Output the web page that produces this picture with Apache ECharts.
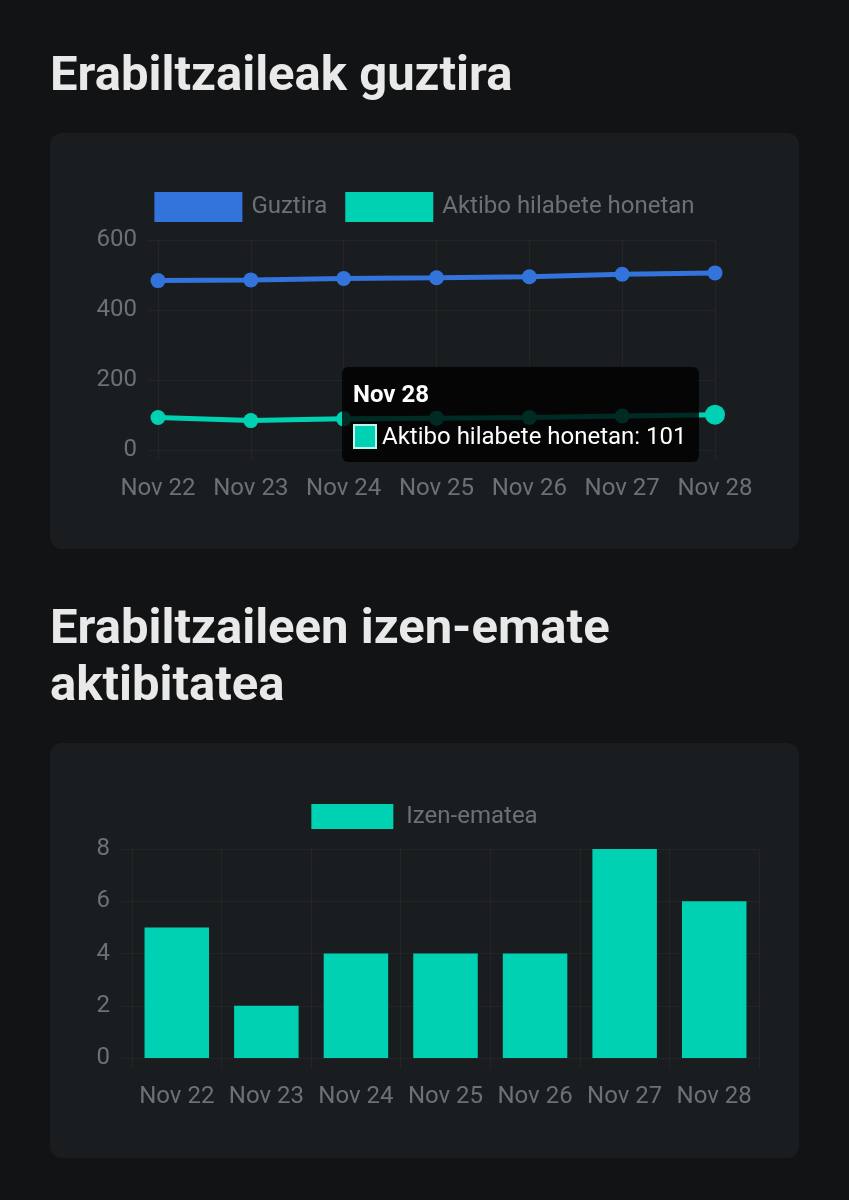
<!DOCTYPE html>
<html>
<head>
<meta charset="utf-8">
<script src="https://cdn.jsdelivr.net/npm/echarts@6/dist/echarts.min.js"></script>
<style>
  body { margin: 0; background: #121314; width: 849px; height: 1200px; overflow: hidden; font-family: Roboto, sans-serif; }
  h2 { position: absolute; left: 50px; margin: 0; font-size: 49px; font-weight: 700; line-height: 57px; color: #e9e9e9; }
  .card { position: absolute; left: 50px; width: 749px; height: 416px; background: #1a1d1f; border-radius: 12px; }
</style>
</head>
<body>
<h2 style="top:45px">Erabiltzaileak guztira</h2>
<div id="users" class="card" style="top:133px"></div>
<h2 style="top:598px">Erabiltzaileen izen-emate<br>aktibitatea</h2>
<div id="signups" class="card" style="top:743px;height:415px"></div>
<script>
// data
var days = ["Nov 22", "Nov 23", "Nov 24", "Nov 25", "Nov 26", "Nov 27", "Nov 28"];
var totalUsers = [484, 486, 490, 492, 495, 502, 506];
var activeUsers = [93, 84, 89, 91, 93, 97, 101];
var signups = [5, 2, 4, 4, 4, 8, 6];

var blue = "#3273dc";
var green = "#00d1b2";
var gray = "#6e7174";
var gridColor = "rgba(255,255,255,0.035)";
var font = "Roboto";

// first chart: totals
var usersChart = echarts.init(document.getElementById("users"));
var last = activeUsers.length - 1;
usersChart.setOption({
    animation: false,
    backgroundColor: "transparent",
    textStyle: { fontFamily: font },
    legend: {
        top: 54,
        left: "center",
        itemWidth: 88,
        itemHeight: 30,
        itemGap: 18,
        icon: "rect",
        data: ["Guztira", "Aktibo hilabete honetan"],
        textStyle: { color: gray, fontSize: 24, fontFamily: font, padding: [0, 0, 0, 4] }
    },
    tooltip: {
        trigger: "item",
        triggerOn: "none",
        alwaysShowContent: true,
        transitionDuration: 0,
        position: [292, 234],
        backgroundColor: "rgba(0,0,0,0.8)",
        borderWidth: 0,
        borderRadius: 6,
        padding: [13, 12, 12, 11],
        extraCssText: "box-shadow:none;",
        textStyle: { color: "#fff", fontSize: 24, fontFamily: font },
        formatter: function (p) {
            return '<div style="font-weight:700;line-height:28px;margin-bottom:14px">' + p.name + '</div>' +
                '<div style="line-height:28px;display:flex;align-items:center">' +
                '<span style="display:inline-block;box-sizing:border-box;width:24px;height:25px;background:' + green +
                ';border:2px solid rgba(255,255,255,0.75);margin-right:5px"></span>' +
                p.seriesName + ': ' + p.value + '</div>';
        }
    },
    grid: { left: 108, right: 84, top: 107, bottom: 99 },
    xAxis: {
        type: "category",
        boundaryGap: false,
        data: days,
        axisLine: { show: false },
        axisTick: { show: true, interval: 0, length: 10, lineStyle: { color: gridColor } },
        axisLabel: { color: gray, fontSize: 24, margin: 27, interval: 0 },
        splitLine: { show: true, interval: 0, lineStyle: { color: gridColor } }
    },
    yAxis: {
        type: "value",
        min: 0,
        max: 600,
        interval: 200,
        axisLine: { show: false },
        axisTick: { show: true, length: 10, lineStyle: { color: gridColor } },
        axisLabel: { color: gray, fontSize: 24, margin: 21 },
        splitLine: { lineStyle: { color: gridColor } }
    },
    series: [
        {
            name: "Guztira",
            type: "line",
            data: totalUsers,
            symbol: "circle",
            symbolSize: 15,
            itemStyle: { color: blue },
            lineStyle: { width: 5, color: blue }
        },
        {
            name: "Aktibo hilabete honetan",
            type: "line",
            data: activeUsers.map(function (v, i) {
                return i === last ? { value: v, symbolSize: 20 } : v;
            }),
            symbol: "circle",
            symbolSize: 15,
            itemStyle: { color: green },
            lineStyle: { width: 5, color: green }
        }
    ]
});
usersChart.dispatchAction({ type: "showTip", seriesIndex: 1, dataIndex: last });

// second chart: sign-ups per day
var signupsChart = echarts.init(document.getElementById("signups"));
signupsChart.setOption({
    animation: false,
    backgroundColor: "transparent",
    textStyle: { fontFamily: font },
    legend: {
        top: 56,
        left: "center",
        itemWidth: 82,
        itemHeight: 25,
        icon: "rect",
        data: ["Izen-ematea"],
        textStyle: { color: gray, fontSize: 24, fontFamily: font, padding: [0, 0, 0, 8] }
    },
    grid: { left: 82, right: 40, top: 106, bottom: 100 },
    xAxis: {
        type: "category",
        data: days,
        axisLine: { show: false },
        axisTick: { show: true, interval: 0, length: 10, lineStyle: { color: gridColor } },
        axisLabel: { color: gray, fontSize: 24, margin: 27, interval: 0 },
        splitLine: { show: true, interval: 0, lineStyle: { color: gridColor } }
    },
    yAxis: {
        type: "value",
        min: 0,
        max: 8,
        interval: 2,
        axisLine: { show: false },
        axisTick: { show: true, length: 10, lineStyle: { color: gridColor } },
        axisLabel: { color: gray, fontSize: 24, margin: 22 },
        splitLine: { lineStyle: { color: gridColor } }
    },
    series: [
        {
            name: "Izen-ematea",
            type: "bar",
            data: signups,
            barCategoryGap: "28%",
            itemStyle: { color: green }
        }
    ]
});
</script>
</body>
</html>
